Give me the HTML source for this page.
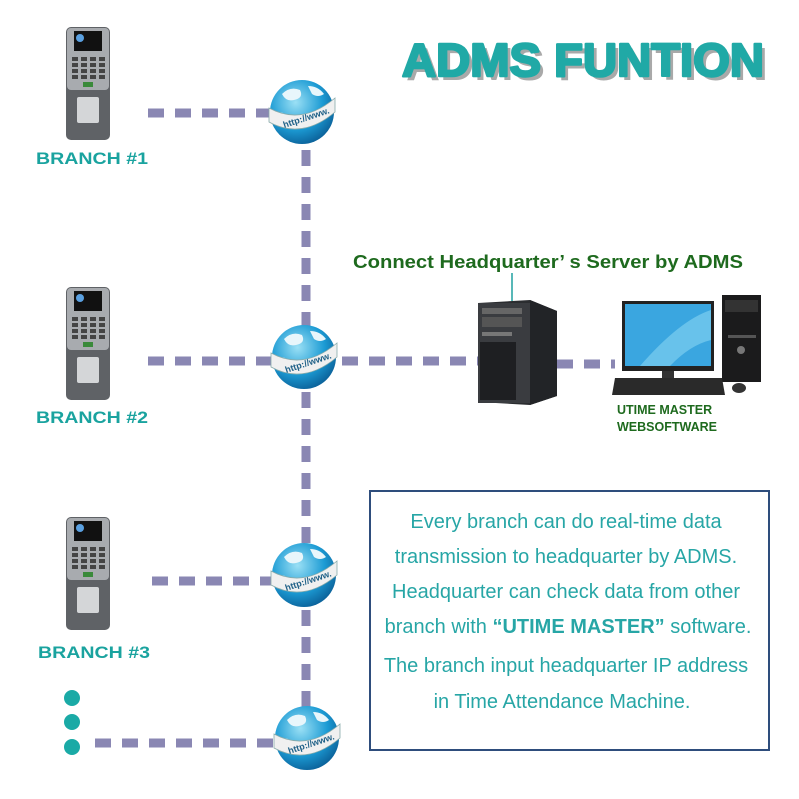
<!DOCTYPE html>
<html><head><meta charset="utf-8"><style>
body{margin:0;background:#fff}
svg{display:block}
</style></head><body>
<svg width="799" height="799" viewBox="0 0 799 799" xmlns="http://www.w3.org/2000/svg">
<defs>
<g id="dev">
  <rect x="0" y="0" width="44" height="113" rx="5" fill="#5f6266"/>
  <rect x="1" y="1" width="42" height="62" rx="4" fill="#a8abaf"/>
  <rect x="8" y="4" width="28" height="20" fill="#111"/>
  <circle cx="14" cy="11" r="4" fill="#5aa0e0"/>
  <g fill="#444">
    <rect x="6" y="30" width="6" height="4"/><rect x="15" y="30" width="6" height="4"/><rect x="24" y="30" width="6" height="4"/><rect x="33" y="30" width="6" height="4"/>
    <rect x="6" y="36" width="6" height="4"/><rect x="15" y="36" width="6" height="4"/><rect x="24" y="36" width="6" height="4"/><rect x="33" y="36" width="6" height="4"/>
    <rect x="6" y="42" width="6" height="4"/><rect x="15" y="42" width="6" height="4"/><rect x="24" y="42" width="6" height="4"/><rect x="33" y="42" width="6" height="4"/>
    <rect x="6" y="48" width="6" height="4"/><rect x="15" y="48" width="6" height="4"/><rect x="24" y="48" width="6" height="4"/><rect x="33" y="48" width="6" height="4"/>
  </g>
  <rect x="17" y="55" width="10" height="5" fill="#3a8a3a"/>
  <rect x="11" y="70" width="22" height="26" rx="2" fill="#d4d6d8"/>
</g>
<radialGradient id="gl" cx="0.4" cy="0.35" r="0.7">
  <stop offset="0" stop-color="#9be0f5"/><stop offset="0.6" stop-color="#1c9bd4"/><stop offset="1" stop-color="#0a5e96"/>
</radialGradient>
<g id="globe">
  <circle cx="0" cy="0" r="32" fill="url(#gl)"/>
  <path d="M-20,-18 q8,-8 18,-4 q4,8 -6,10 q-8,2 -12,-6z M6,-26 q10,0 16,8 q-6,4 -12,0z M-26,2 q6,-4 10,2 q-2,8 -8,6z" fill="#e8f6fb"/>
  <path d="M-33,-4 Q0,14 33,-14 L33,0 Q0,28 -33,10 Z" fill="#f0f0f0" stroke="#8aa" stroke-width="0.8"/>
  <text x="-20" y="10" font-family="Liberation Sans, sans-serif" font-size="9" font-weight="bold" fill="#1d5f86" transform="rotate(-18 0 6)">http://www.</text>
</g>
</defs>

<g stroke="#8a87b3" stroke-width="9" stroke-dasharray="16,11" fill="none">
  <line x1="148" y1="113" x2="270" y2="113"/>
  <line x1="306" y1="150" x2="306" y2="330"/>
  <line x1="306" y1="392" x2="306" y2="548"/>
  <line x1="306" y1="610" x2="306" y2="708"/>
  <line x1="148" y1="361" x2="272" y2="361"/>
  <line x1="342" y1="361" x2="480" y2="361"/>
  <line x1="557" y1="364" x2="615" y2="364"/>
  <line x1="152" y1="581" x2="272" y2="581"/>
  <line x1="95" y1="743" x2="276" y2="743"/>
</g>

<use href="#dev" x="66" y="27"/>
<use href="#dev" x="66" y="287"/>
<use href="#dev" x="66" y="517"/>

<use href="#globe" x="302" y="112"/>
<use href="#globe" x="304" y="357"/>
<use href="#globe" x="304" y="575"/>
<use href="#globe" x="307" y="738"/>

<g fill="#1aaaa6"><circle cx="72" cy="698" r="8"/><circle cx="72" cy="722" r="8"/><circle cx="72" cy="747" r="8"/></g>

<g font-family="Liberation Sans, sans-serif" font-weight="bold">
<text x="36" y="164" font-size="17" fill="#1aa39f" textLength="112" lengthAdjust="spacingAndGlyphs">BRANCH #1</text>
<text x="36" y="423" font-size="17" fill="#1aa39f" textLength="112" lengthAdjust="spacingAndGlyphs">BRANCH #2</text>
<text x="38" y="658" font-size="17" fill="#1aa39f" textLength="112" lengthAdjust="spacingAndGlyphs">BRANCH #3</text>
<text x="406" y="80" font-size="46" fill="#555" opacity="0.5" textLength="362" lengthAdjust="spacingAndGlyphs">ADMS FUNTION</text>
<text x="402" y="76" font-size="46" fill="#20a9a6" stroke="#20a9a6" stroke-width="2.5" stroke-linejoin="round" textLength="362" lengthAdjust="spacingAndGlyphs">ADMS FUNTION</text>
<text x="353" y="268" font-size="18" fill="#1e6a1e" textLength="390" lengthAdjust="spacingAndGlyphs">Connect Headquarter’ s Server by ADMS</text>
<text x="617" y="414" font-size="12.5" fill="#1e6a1e">UTIME MASTER</text>
<text x="617" y="431" font-size="12.5" fill="#1e6a1e">WEBSOFTWARE</text>
</g>
<line x1="512" y1="273" x2="512" y2="301" stroke="#20a0a0" stroke-width="1.5"/>

<polygon points="478,303 530,300 557,311 557,396 530,405 478,402" fill="#2b2d30"/>
<rect x="478" y="303" width="52" height="100" fill="#3a3c40"/>
<rect x="482" y="308" width="40" height="6" fill="#666"/>
<rect x="482" y="317" width="40" height="10" fill="#555"/>
<rect x="482" y="332" width="30" height="4" fill="#777"/>
<rect x="480" y="342" width="36" height="58" fill="#1e1f22"/>
<polygon points="530,300 557,311 557,396 530,405" fill="#222427"/>

<rect x="622" y="301" width="92" height="70" fill="#222"/>
<rect x="625" y="304" width="86" height="62" fill="#3aa6e0"/>
<path d="M640,366 Q680,320 711,310 L711,340 Q690,345 670,366Z" fill="#7ccff0" opacity="0.7"/>
<rect x="662" y="371" width="12" height="8" fill="#333"/>
<rect x="722" y="295" width="39" height="87" fill="#1b1b1c"/>
<rect x="725" y="300" width="33" height="12" fill="#333"/>
<rect x="728" y="335" width="28" height="3" fill="#555"/>
<circle cx="741" cy="350" r="4" fill="#777"/>
<polygon points="615,378 722,378 725,395 612,395" fill="#2a2a2a"/>
<ellipse cx="739" cy="388" rx="7" ry="5" fill="#333"/>

<rect x="370" y="491" width="399" height="259" fill="#fff" stroke="#2e4d7c" stroke-width="2"/>
<g font-family="Liberation Sans, sans-serif" font-size="20" fill="#27a6a6" text-anchor="middle">
<text x="566" y="528">Every branch can do real-time data</text>
<text x="566" y="563">transmission to headquarter by ADMS.</text>
<text x="566" y="598">Headquarter can check data from other</text>
<text x="568" y="633">branch with  <tspan font-weight="bold">“UTIME MASTER”</tspan> software.</text>
<text x="566" y="672">The branch input headquarter IP address</text>
<text x="562" y="708">in Time Attendance Machine.</text>
</g>
</svg>
</body></html>
